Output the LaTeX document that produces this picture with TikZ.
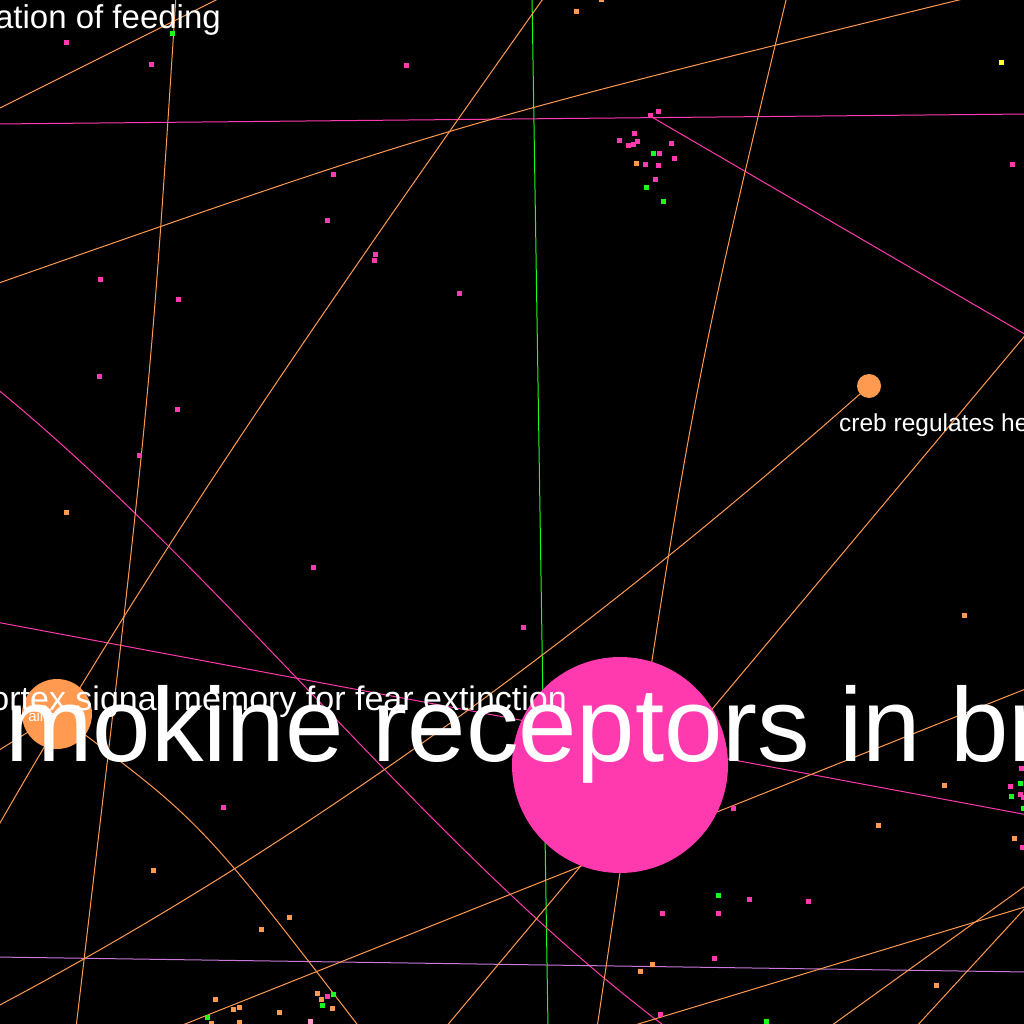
\documentclass[tikz,border=0pt]{standalone}
\usepackage{fontspec}
\newfontfamily\arialfont{Liberation Sans}
\definecolor{hotpink}{HTML}{FF3AAF}
\definecolor{peach}{HTML}{FF9A50}
\definecolor{lime}{HTML}{19FF19}
\definecolor{lilac}{HTML}{C879D9}
\definecolor{lemon}{HTML}{FFFF33}
\definecolor{blush}{HTML}{FF99CC}

\begin{document}
\begin{tikzpicture}[x=1pt, y=-1pt]
    \tikzstyle{hub} = [circle, inner sep=0pt, draw=none]
    \tikzstyle{dot} = [rectangle, inner sep=0pt, minimum size=5pt, draw=none]
    \tikzstyle{lbl} = [text=white, inner sep=0pt]
    \tikzstyle{edge} = [line width=1pt]

    \useasboundingbox (0,0) rectangle (1024,1024);
    \fill[black] (0,0) rectangle (1024,1024);

    % node centres and far ends of the edges
    \coordinate (chemo) at (620,765);
    \coordinate (creb) at (869,386);
    \coordinate (cortex) at (57,714);
    \coordinate (clus) at (650,116);
    \coordinate (gtop) at (532,-4);     \coordinate (gbot) at (548,1028);
    \coordinate (pkwest) at (-4,124);   \coordinate (pkeast) at (1028,114);
    \coordinate (pkne) at (1028,336);
    \coordinate (pkwest2) at (-4,622);  \coordinate (pkeast2) at (1028,815);
    \coordinate (pkwest3) at (-4,388);  \coordinate (pksouth3) at (667,1028);
    \coordinate (liwest) at (-4,957);   \coordinate (lieast) at (1028,972);
    \coordinate (orA1) at (-4,110);     \coordinate (orA2) at (224,-4);
    \coordinate (orB1) at (-4,284);     \coordinate (orB2) at (975,-4);
    \coordinate (orC1) at (176,-4);     \coordinate (orC2) at (76,1028);
    \coordinate (orD1) at (545,-4);     \coordinate (orD2) at (-4,830);
    \coordinate (orE1) at (787,-4);     \coordinate (orE2) at (597,1028);
    \coordinate (orF1) at (1028,332);   \coordinate (orF2) at (445,1028);
    \coordinate (orG) at (-4,1007);
    \coordinate (orH1) at (1028,688);   \coordinate (orH2) at (175,1028);
    \coordinate (orI1) at (1028,905);   \coordinate (orI2) at (915,1028);
    \coordinate (orJ1) at (1028,884);   \coordinate (orJ2) at (828,1028);
    \coordinate (orK1) at (1028,906);   \coordinate (orK2) at (625,1028);
    \coordinate (orL) at (360,1028);
    \coordinate (orM) at (-4,752);

    % edges
    \draw [edge, lime] (gtop) -- (gbot);
    \draw [edge, hotpink] (pkwest) -- (pkeast);
    \draw [edge, hotpink] (clus) -- (pkne);
    \draw [edge, hotpink] (pkwest2) -- (pkeast2);
    \draw [edge, hotpink] (pkwest3) .. controls (230,580) and (430,850) .. (pksouth3);
    \draw [edge, lilac] (liwest) -- (lieast);
    \draw [edge, peach] (orA1) -- (orA2);
    \draw [edge, peach] (orB1) .. controls (450,125) .. (orB2);
    \draw [edge, peach] (orC1) .. controls (150,400) .. (orC2);
    \draw [edge, peach] (orD1) .. controls (330,300) and (150,560) .. (orD2);
    \draw [edge, peach] (orE1) .. controls (690,400) .. (orE2);
    \draw [edge, peach] (orF1) -- (orF2);
    \draw [edge, peach] (creb) .. controls (650,580) and (350,820) .. (orG);
    \draw [edge, peach] (orH1) -- (orH2);
    \draw [edge, peach] (orI1) -- (orI2);
    \draw [edge, peach] (orJ1) -- (orJ2);
    \draw [edge, peach] (orK1) -- (orK2);
    \draw [edge, peach] (cortex) .. controls (200,820) .. (orL);
    \draw [edge, peach] (cortex) -- (orM);

    % small nodes
    \node (clusdot) [dot, fill=hotpink] at (clus) {};
    \foreach \px/\py [count=\i] in {66/43, 151/65, 406/66, 333/175, 327/221, 375/254, 374/260,
        100/279, 178/299, 459/293, 99/376, 177/409, 139/455, 313/567, 523/627, 223/807,
        733/808, 662/913, 718/913, 749/899, 808/901, 714/958, 660/1014, 1012/165, 327/996,
        1021/768, 1010/786, 1020/794, 1023/797, 1022/847, 658/112, 634/134, 619/141,
        628/146, 633/145, 637/142, 659/154, 671/144, 674/159, 645/165, 658/166, 655/180}
        \node (pk\i) [dot, fill=hotpink] at (\px,\py) {};
    \foreach \px/\py [count=\i] in {172/34, 653/154, 646/188, 663/202, 333/994, 322/1005,
        207/1017, 718/895, 766/1021, 1020/783, 1011/796, 1023/808}
        \node (gr\i) [dot, fill=lime] at (\px,\py) {};
    \foreach \px/\py [count=\i] in {576/12, 601/0, 636/164, 66/512, 964/615, 944/785, 878/825,
        1014/838, 153/870, 289/917, 261/929, 215/999, 233/1009, 239/1007, 279/1012,
        317/993, 321/999, 332/1008, 211/1023, 239/1022, 652/964, 640/971, 936/985}
        \node (or\i) [dot, fill=peach] at (\px,\py) {};
    \node (ye1) [dot, fill=lemon] at (1001,63) {};
    \node (lp1) [dot, fill=blush] at (310,1021) {};

    % large nodes
    \node (crebnode) [hub, fill=peach, minimum size=24pt] at (creb) {};
    \node (cortexnode) [hub, fill=peach, minimum size=70pt] at (cortex) {};
    \node (chemonode) [hub, fill=hotpink, minimum size=216pt] at (chemo) {};

    % labels
    \node (feedlbl) [lbl, anchor=base east, font=\arialfont\fontsize{33}{33}\selectfont] at (221,29) {ation of feeding};
    \node (creblbl) [lbl, anchor=base west, font=\arialfont\fontsize{24.5}{24.5}\selectfont] at (839,431) {creb regulates he};
    \node (cortexsub) [lbl, anchor=base east, font=\arialfont\fontsize{15}{15}\selectfont] at (56,721) {ains};
    \node (cortexlbl) [lbl, anchor=base east, font=\arialfont\fontsize{34}{34}\selectfont] at (567,710) {ortex signal memory for fear extinction};
    \node (chemolbl) [lbl, anchor=base west, font=\arialfont\fontsize{105}{105}\selectfont] at (5,761) {mokine receptors in br};
\end{tikzpicture}
\end{document}
